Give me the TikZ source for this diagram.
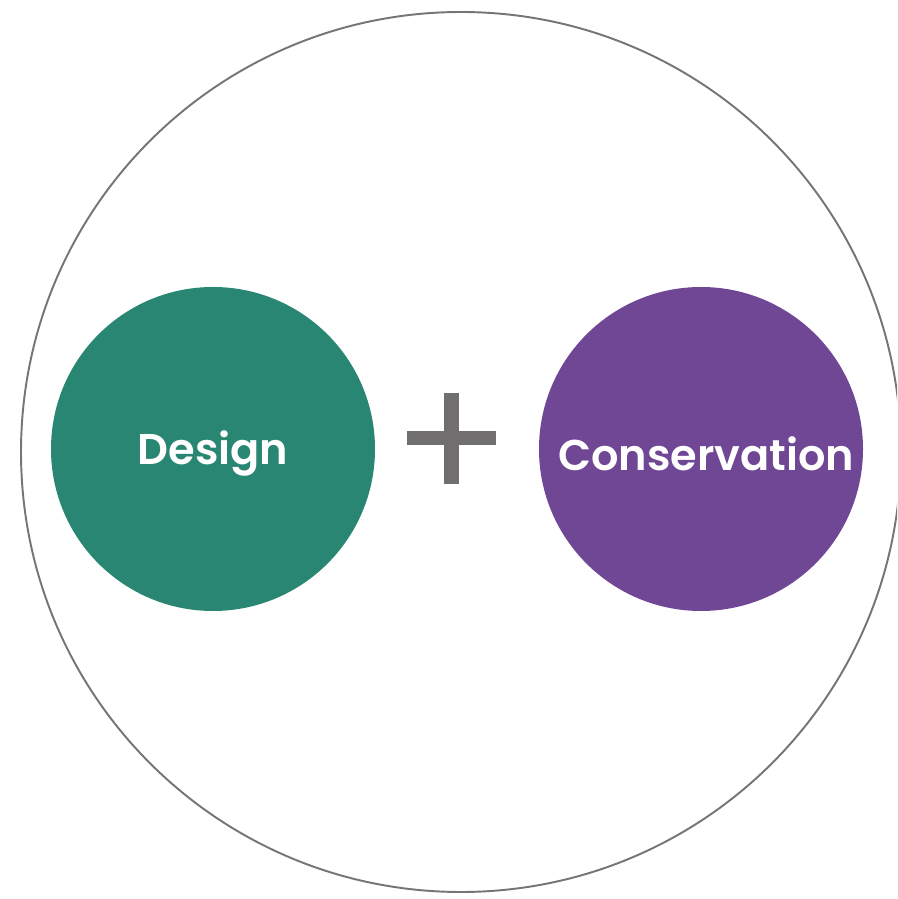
\documentclass[tikz,border=0pt]{standalone}
\usepackage{fontspec}
\setmainfont{Poppins}[BoldFont={Poppins SemiBold}]
\usepackage{tikz}

\definecolor{dgreen}{HTML}{298672}
\definecolor{cpurple}{HTML}{6F4795}
\definecolor{rimgray}{HTML}{767474}

\begin{document}
\begin{tikzpicture}
				\clip (0,0) rectangle (17.94,17.98);
				\node[draw=rimgray, line width=1.1pt, circle, minimum size=17.6cm] (outer) at (9.22,8.94) {};
				\node[circle, fill=dgreen, minimum size=6.48cm, inner sep=0] (design) at (4.26,9.0) {};
				\node[circle, fill=cpurple, minimum size=6.48cm, inner sep=0] (cons) at (14.02,9.0) {};
				\node[text=white, font=\fontsize{24.5}{30}\selectfont\bfseries] (designtxt) at ([yshift=-0.1cm]design) {Design};
				\node[text=white, font=\fontsize{24.5}{30}\selectfont\bfseries] (constxt) at ([xshift=0.1cm, yshift=-0.1cm]cons) {Conservation};
				\fill[rimgray!95!black] (8.88,8.30) rectangle (9.18,10.12);
				\fill[rimgray!95!black] (8.14,9.08) rectangle (9.92,9.36);
			\end{tikzpicture}
\end{document}
